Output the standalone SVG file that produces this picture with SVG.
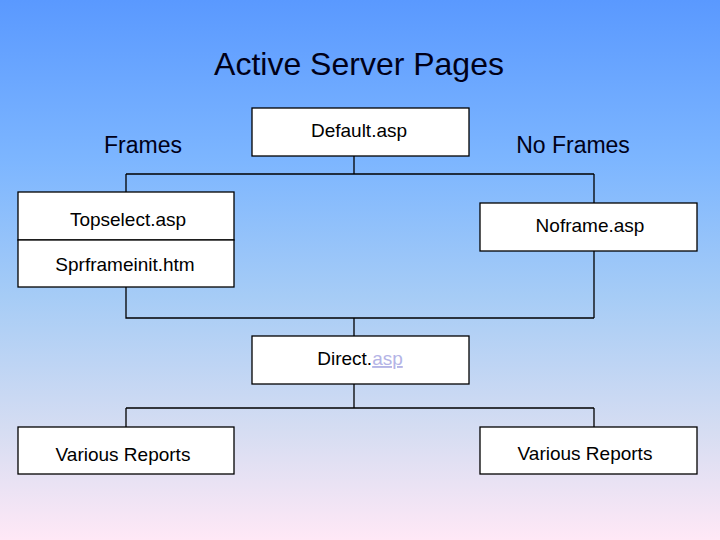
<svg xmlns="http://www.w3.org/2000/svg" width="720" height="540" viewBox="0 0 720 540">
<defs>
<linearGradient id="bg" x1="0" y1="0" x2="0" y2="1">
<stop offset="0" stop-color="#5A99FF"/>
<stop offset="0.3" stop-color="#7DB6FF"/>
<stop offset="0.55" stop-color="#A6CCF6"/>
<stop offset="0.8" stop-color="#D6DDF2"/>
<stop offset="1" stop-color="#FFE8F6"/>
</linearGradient>
<style>
.box{fill:#fff;stroke:#000;stroke-width:1.3}
.t{font-family:"Liberation Sans",Arial,sans-serif;font-size:19px;fill:#000;text-anchor:middle}
.h{font-family:"Liberation Sans",Arial,sans-serif;fill:#000018;text-anchor:middle}
#connectors path{fill:none;stroke:#000;stroke-width:1.3}
</style>
</defs>
<rect width="720" height="540" fill="url(#bg)"/>
<text class="h" x="359" y="75" font-size="32">Active Server Pages</text>
<text class="h" x="143" y="153" font-size="23">Frames</text>
<text class="h" x="573" y="153" font-size="23">No Frames</text>
<g id="connectors">
<path d="M354 156V174M126 174H594M126 174V192M594 174V203"/>
<path d="M126 287V318H594M594 251V318M354 318V336"/>
<path d="M354 384V408M126 408H594M126 408V427M594 408V427"/>
</g>
<g id="default"><rect class="box" x="252" y="108" width="217" height="48"/><text class="t" x="359" y="137">Default.asp</text></g>
<g id="topselect"><rect class="box" x="18" y="192" width="216" height="48"/><text class="t" x="128" y="226">Topselect.asp</text></g>
<g id="sprframeinit"><rect class="box" x="18" y="240" width="216" height="47"/><text class="t" x="125" y="271">Sprframeinit.htm</text></g>
<g id="noframe"><rect class="box" x="480" y="203" width="217" height="48"/><text class="t" x="590" y="232">Noframe.asp</text></g>
<g id="direct"><rect class="box" x="252" y="336" width="217" height="48"/><text class="t" x="360" y="365">Direct.<tspan fill="#B4B4E6" text-decoration="underline">asp</tspan></text></g>
<g id="reports-left"><rect class="box" x="18" y="427" width="216" height="47"/><text class="t" x="123" y="461">Various Reports</text></g>
<g id="reports-right"><rect class="box" x="480" y="427" width="217" height="47"/><text class="t" x="585" y="460">Various Reports</text></g>
</svg>
